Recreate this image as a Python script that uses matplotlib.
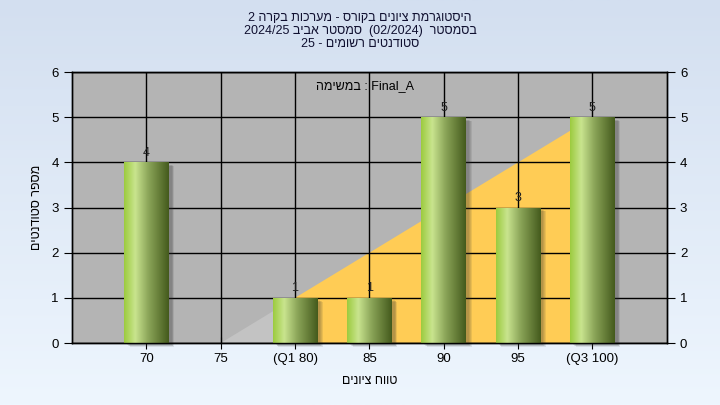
import re
import numpy as np
import matplotlib
matplotlib.use("Agg")
import matplotlib.pyplot as plt
from matplotlib.colors import LinearSegmentedColormap
from matplotlib.patches import Polygon

plt.rcParams['font.family'] = ['Liberation Sans', 'DejaVu Sans']

# ---- data ----
categories = ["70", "75", "(Q1 80)", "85", "90", "95", "(Q3 100)"]
counts = [4, 0, 1, 1, 5, 3, 5]
yticks = [0, 1, 2, 3, 4, 5, 6]
q1_index = 2
q3_index = 6
light_x = [1, 2, 2]
light_y = [0, 1, 0]
iqr_x = [2, 2, 6, 6]
iqr_y = [0, 1, 5, 0]

title_lines = ["היסטוגרמת ציונים בקורס - מערכות בקרה 2",
               "בסמסטר  (02/2024)  סמסטר אביב 2024/25",
               "סטודנטים רשומים - 25"]
task_he = "במשימה"
task_name = "Final_A"
xlabel = "טווח ציונים"
ylabel = "מספר סטודנטים"


def vis(s):
    """Simple logical->visual conversion for RTL text."""
    r = s[::-1].translate(str.maketrans('()', ')('))
    return re.sub(r'[A-Za-z0-9][A-Za-z0-9/._]*[A-Za-z0-9]|[A-Za-z0-9]',
                  lambda m: m.group(0)[::-1], r)


fig = plt.figure(figsize=(7.2, 4.05), dpi=100)

# background gradient
bg = fig.add_axes([0, 0, 1, 1], zorder=-10)
grad = np.linspace(0, 1, 256).reshape(-1, 1)
bgcmap = LinearSegmentedColormap.from_list("bg", ["#d3dff0", "#eef6fe"])
bg.imshow(grad, aspect='auto', cmap=bgcmap, extent=[0, 1, 0, 1], origin='upper')
bg.axis('off')

ax = fig.add_axes([0.1, 0.153, 0.826, 0.669])
ax.set_facecolor("#b4b4b4")
n = len(categories)
x = np.arange(n)
ax.set_xlim(-1, n)
ax.set_ylim(0, 6)

# shaded regions
ax.add_patch(Polygon(list(zip(light_x, light_y)), closed=True,
                     facecolor="#c3c3c3", edgecolor="none", zorder=1))
ax.add_patch(Polygon(list(zip(iqr_x, iqr_y)), closed=True,
                     facecolor="#ffcc55", edgecolor="none", zorder=1))

# grid
for xi in x:
    ax.axvline(xi, color="black", lw=1, zorder=2)
for yi in yticks:
    ax.axhline(yi, color="black", lw=1, zorder=2)

# bars
w = 0.6
bcmap = LinearSegmentedColormap.from_list(
    "bar", [(0.0, "#9ccb3e"), (0.25, "#c9e48e"), (0.55, "#8aa458"), (1.0, "#445a1c")])
gx = np.linspace(0, 1, 256).reshape(1, -1)
for xi, h in zip(x, counts):
    if h <= 0:
        continue
    # shadow
    for k in range(4):
        off = 0.02 + 0.012 * k
        ax.bar(xi + off + 0.02, h, width=w, bottom=-0.05 - 0.012 * k,
               color="#303030", alpha=0.1, zorder=3, clip_on=False, linewidth=0)
    bars = ax.bar(xi, h, width=w, color="none", zorder=4, linewidth=0)
    p = bars[0]
    im = ax.imshow(gx, aspect='auto', cmap=bcmap,
                   extent=[xi - w / 2, xi + w / 2, 0, h], zorder=4)
    im.set_clip_path(p)
    ax.text(xi, h + 0.08, str(h), ha='center', va='bottom', fontsize=9,
            color="#202020", zorder=6)

ax.set_xlim(-1, n)
ax.set_ylim(0, 6)

ax.set_xticks(x)
ax.set_xticklabels(categories, fontsize=9.5)
ax.set_yticks(yticks)
ax.tick_params(axis='y', direction='out', length=6, labelsize=9.5, colors='black')
ax.tick_params(axis='x', direction='inout', length=8, labelsize=9.5)
ax2 = ax.twinx()
ax2.set_ylim(0, 6)
ax2.set_yticks(yticks)
ax2.tick_params(axis='y', direction='out', length=6, labelsize=9.5)
for a in (ax, ax2):
    for s in a.spines.values():
        s.set_color("black")
        s.set_linewidth(1)

ax.set_xlabel(vis(xlabel), fontsize=9, labelpad=7)
ax.set_ylabel(vis(ylabel), fontsize=9, labelpad=6)

ax.text(0.492, 0.948, vis(task_he) + " : " + task_name, transform=ax.transAxes,
        ha='center', va='center', fontsize=9, zorder=7)

for i, line in enumerate(title_lines):
    fig.text(0.5, 1 - (18 + 13 * i) / 405, vis(line), ha='center', va='center',
             fontsize=9, color="#101030")

fig.savefig("out.png", dpi=100)
